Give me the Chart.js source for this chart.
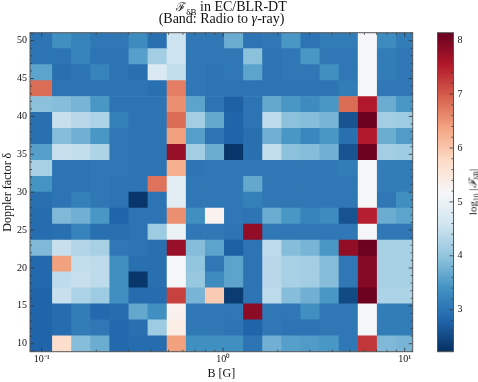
<!DOCTYPE html>
<html>
<head>
<meta charset="utf-8">
<script src="https://cdn.jsdelivr.net/npm/chart.js@4.4.1/dist/chart.umd.min.js"></script>
<style>
  body { margin: 0; background: #fff; }
  #wrap { position: relative; width: 478px; height: 382px; overflow: hidden; }
  canvas { position: absolute; top: 0; }
  .ttl { position: absolute; width: 383px; text-align: center; color: #111;
         font-family: "Liberation Serif", serif; font-size: 14px; line-height: 14px; white-space: nowrap; }
  .ttl sub { font-size: 9px; line-height: 0; }
  .ttl .cal { font-size: 12px; }
  #cbLabel { position: absolute; left: 471.5px; top: 192px; transform: translate(-50%, -50%) rotate(-90deg);
             font-family: "Liberation Serif", serif; font-size: 11px; color: #111; white-space: nowrap; }
  #cbLabel sub { font-size: 7.5px; line-height: 0; }
</style>
</head>
<body>
<div id="wrap">
  <canvas id="heat" width="478" height="382" style="left:0"></canvas>
  <canvas id="cbar" width="44" height="382" style="left:434px"></canvas>
  <div class="ttl" style="top:0px; left:40px"><span class="cal">ℱ</span><sub>δB</sub> in EC/BLR-DT</div>
  <div class="ttl" style="top:11.5px; left:30px">(Band: Radio to <i>γ</i>-ray)</div>
  <div id="cbLabel">log<sub>10</sub> |<i>ℱ</i><sub>δB</sub>|</div>
</div>
<script>
// magnetic field grid [G]
const bField = [0.1, 0.12743, 0.16238, 0.20691, 0.26367, 0.33598, 0.42813, 0.54556, 0.69519, 0.88587,
                1.12884, 1.43845, 1.83298, 2.33572, 2.97635, 3.79269, 4.83293, 6.15848, 7.8476, 10];
// doppler factor grid, top row first
const doppler = [50, 47.895, 45.789, 43.684, 41.579, 39.474, 37.368, 35.263, 33.158, 31.053,
                 28.947, 26.842, 24.737, 22.632, 20.526, 18.421, 16.316, 14.211, 12.105, 10];
// log10 |F_dB|, one row per doppler value (same order), one entry per B value
const logF = [
  [3.0, 3.35, 3.2, 3.05, 3.05, 3.3, 2.95, 4.55, 3.05, 3.05, 3.7, 3.0, 3.05, 3.45, 3.0, 3.1, 3.1, 5.15, 3.3, 3.1],
  [3.0, 3.0, 3.2, 3.0, 3.0, 3.55, 4.15, 4.55, 3.05, 3.05, 3.05, 3.95, 3.0, 3.05, 3.45, 3.05, 3.05, 5.15, 3.1, 3.05],
  [3.6, 2.95, 3.0, 3.2, 3.0, 2.95, 4.75, 4.45, 3.05, 3.0, 3.05, 3.6, 3.0, 3.05, 3.05, 3.35, 3.05, 5.15, 3.1, 3.05],
  [6.85, 3.0, 3.0, 3.0, 3.0, 3.0, 2.95, 6.7, 3.05, 3.0, 3.0, 3.0, 3.0, 3.0, 3.0, 3.0, 3.1, 5.15, 3.05, 3.05],
  [3.95, 3.9, 3.8, 3.45, 3.0, 3.0, 3.0, 6.55, 3.6, 3.0, 2.75, 3.0, 3.65, 3.45, 3.3, 3.45, 6.85, 7.55, 3.7, 3.45],
  [2.95, 4.5, 4.35, 4.25, 3.15, 3.0, 3.0, 6.85, 4.15, 3.65, 2.8, 3.0, 4.4, 3.95, 3.9, 3.8, 2.6, 8.1, 4.15, 4.1],
  [2.95, 3.9, 3.75, 3.45, 3.05, 3.0, 3.0, 6.4, 3.55, 3.0, 2.8, 2.95, 3.75, 3.45, 3.25, 3.45, 2.95, 7.55, 3.7, 3.5],
  [3.55, 4.5, 4.45, 4.25, 3.05, 3.0, 3.0, 7.75, 4.15, 3.7, 2.3, 2.95, 4.45, 3.95, 3.9, 3.75, 2.6, 8.1, 4.15, 4.1],
  [4.2, 3.0, 3.0, 3.05, 3.05, 3.0, 3.0, 6.25, 3.0, 3.05, 3.05, 3.05, 3.05, 3.05, 3.05, 3.05, 3.1, 5.15, 3.1, 3.1],
  [3.4, 3.0, 3.0, 3.05, 3.0, 3.0, 6.8, 4.85, 3.05, 3.05, 3.05, 3.65, 3.05, 3.05, 3.05, 3.05, 3.05, 5.15, 3.1, 3.1],
  [2.95, 3.0, 3.15, 3.05, 3.0, 2.3, 3.0, 4.85, 3.05, 3.05, 3.05, 3.15, 3.05, 3.05, 3.05, 3.05, 3.05, 5.15, 3.05, 3.35],
  [2.9, 3.85, 3.75, 3.45, 2.8, 3.0, 3.0, 6.55, 3.35, 5.3, 3.05, 3.0, 3.7, 3.45, 3.2, 3.3, 2.6, 7.5, 3.7, 3.6],
  [2.9, 2.95, 3.2, 2.95, 2.95, 3.0, 4.1, 5.0, 3.05, 3.05, 3.0, 7.8, 3.05, 3.05, 3.05, 3.05, 3.05, 5.15, 3.05, 3.05],
  [3.85, 4.5, 4.3, 4.2, 3.05, 3.0, 2.95, 7.75, 3.9, 3.6, 2.75, 3.0, 4.4, 3.9, 3.8, 3.45, 7.8, 8.1, 4.2, 4.2],
  [2.85, 6.4, 4.45, 4.4, 3.35, 2.95, 2.95, 5.15, 4.0, 3.05, 3.6, 3.0, 4.35, 4.2, 4.15, 3.9, 3.05, 7.9, 4.2, 4.2],
  [2.85, 4.4, 4.5, 4.4, 3.35, 2.3, 2.95, 5.15, 4.05, 3.3, 3.6, 3.0, 4.35, 4.2, 4.15, 3.9, 3.05, 7.9, 4.2, 4.2],
  [2.8, 4.5, 4.25, 4.1, 3.35, 2.9, 2.9, 7.2, 3.8, 5.95, 2.35, 3.0, 4.4, 3.9, 3.75, 3.45, 2.5, 8.1, 4.25, 4.25],
  [2.8, 2.9, 3.1, 2.85, 2.9, 3.65, 3.35, 5.3, 3.05, 3.05, 3.05, 7.85, 3.05, 3.05, 3.35, 3.05, 3.05, 5.15, 3.1, 3.1],
  [2.8, 2.9, 3.1, 3.05, 2.85, 2.95, 4.1, 5.4, 3.05, 3.05, 3.0, 2.8, 3.05, 3.0, 3.0, 3.05, 3.05, 5.15, 3.1, 3.1],
  [2.8, 5.7, 3.9, 3.7, 2.85, 2.9, 2.9, 6.4, 3.35, 3.35, 3.35, 3.0, 3.75, 3.55, 3.5, 3.45, 3.05, 7.3, 3.85, 3.8]
];
const xTickVals = [0.1, 1, 10];
const xTickText = ['10⁻¹', '10⁰', '10¹'];
const yTickVals = [10, 15, 20, 25, 30, 35, 40, 45, 50];
const cbarTickVals = [3, 4, 5, 6, 7, 8];
const cMin = 2.22, cMax = 8.14;

// RdBu_r
const rdbu = ['#053061', '#2166ac', '#4393c3', '#92c5de', '#d1e5f0', '#f7f7f7',
              '#fddbc7', '#f4a582', '#d6604d', '#b2182b', '#67001f'];
const rgb = rdbu.map(h => [1, 3, 5].map(i => parseInt(h.substr(i, 2), 16)));
function colorFor(v) {
  let t = Math.min(1, Math.max(0, (v - cMin) / (cMax - cMin))) * 10;
  const i = Math.min(9, Math.floor(t)), f = t - i;
  const c = rgb[i].map((a, k) => Math.round(a + (rgb[i + 1][k] - a) * f));
  return `rgb(${c[0]},${c[1]},${c[2]})`;
}

// cell edges = midpoints between grid values (like pcolormesh 'nearest')
function edges(vals) {
  const s = [...vals].sort((a, b) => a - b);
  const e = [s[0] - (s[1] - s[0]) / 2];
  for (let i = 1; i < s.length; i++) e.push((s[i - 1] + s[i]) / 2);
  e.push(s[s.length - 1] + (s[s.length - 1] - s[s.length - 2]) / 2);
  return e;
}
const bEdges = edges(bField);
const dEdges = edges(doppler);

Chart.defaults.font.family = '"Liberation Serif", serif';
Chart.defaults.color = '#111';

const frameTicks = {
  id: 'frameTicks',
  afterDatasetsDraw(chart) {
    const {ctx, chartArea: a, scales: {x, y}} = chart;
    ctx.save();
    ctx.strokeStyle = '#333';
    ctx.lineWidth = 0.8;
    ctx.beginPath();
    const xt = (v, len) => {
      const p = x.getPixelForValue(v);
      ctx.moveTo(p, a.bottom); ctx.lineTo(p, a.bottom - len);
      ctx.moveTo(p, a.top); ctx.lineTo(p, a.top + len);
    };
    const yt = (v, len) => {
      const p = y.getPixelForValue(v);
      ctx.moveTo(a.left, p); ctx.lineTo(a.left + len, p);
      ctx.moveTo(a.right, p); ctx.lineTo(a.right - len, p);
    };
    xTickVals.forEach(v => xt(v, 4));
    [0.09, 0.2, 0.3, 0.4, 0.5, 0.6, 0.7, 0.8, 0.9, 2, 3, 4, 5, 6, 7, 8, 9].forEach(v => xt(v, 2));
    yTickVals.forEach(v => yt(v, 4));
    for (let v = 9; v <= 51; v++) if (v % 5) yt(v, 2);
    ctx.stroke();
    ctx.lineWidth = 1;
    ctx.strokeStyle = '#555';
    ctx.strokeRect(a.left, a.top, a.width, a.height);
    ctx.restore();
  }
};

const datasets = bField.map((b, i) => ({
  label: 'B = ' + b,
  data: doppler.map(d => ({y: d, x: [bEdges[i], bEdges[i + 1]]})),
  backgroundColor: doppler.map((d, j) => colorFor(logF[j][i])),
  borderWidth: 0,
  barPercentage: 1,
  categoryPercentage: 1,
  grouped: false
}));

new Chart(document.getElementById('heat'), {
  type: 'bar',
  data: {datasets},
  options: {
    indexAxis: 'y',
    responsive: false,
    animation: false,
    devicePixelRatio: 1,
    layout: {padding: {left: 0, top: 32.7, right: 65.3, bottom: 0}},
    plugins: {legend: {display: false}, tooltip: {enabled: false}},
    scales: {
      x: {
        type: 'logarithmic',
        min: bEdges[0], max: bEdges[bEdges.length - 1],
        grid: {display: false, drawTicks: false},
        border: {display: false},
        afterBuildTicks: s => { s.ticks = xTickVals.map(v => ({value: v})); },
        afterFit: s => { s.height = 30.3; },
        ticks: {
          autoSkip: false, maxRotation: 0, padding: 2,
          font: {size: 10},
          callback: v => xTickText[xTickVals.indexOf(v)]
        },
        title: {display: true, text: 'B [G]', font: {size: 12}, padding: {top: 0, bottom: 1}}
      },
      y: {
        type: 'linear',
        offset: false,
        min: dEdges[0], max: dEdges[dEdges.length - 1],
        grid: {display: false, offset: false, drawTicks: false},
        border: {display: false},
        afterBuildTicks: s => { s.ticks = yTickVals.map(v => ({value: v})); },
        afterFit: s => { s.width = 30; },
        ticks: {autoSkip: false, padding: 3, font: {size: 10}},
        title: {display: true, text: 'Doppler factor δ', font: {size: 12}, padding: {top: 1, bottom: 0}}
      }
    }
  },
  plugins: [frameTicks]
});

// colorbar
const cbarTicks = {
  id: 'cbarTicks',
  afterDatasetsDraw(chart) {
    const {ctx, chartArea: a, scales: {y}} = chart;
    ctx.save();
    ctx.strokeStyle = '#333';
    ctx.lineWidth = 0.8;
    ctx.beginPath();
    cbarTickVals.forEach(v => { const p = y.getPixelForValue(v); ctx.moveTo(a.right, p); ctx.lineTo(a.right - 4, p); });
    for (let k = 12; k <= 40; k++) {
      if (k % 5 === 0) continue;
      const p = y.getPixelForValue(k / 5);
      if (p < a.top || p > a.bottom) continue;
      ctx.moveTo(a.right, p); ctx.lineTo(a.right - 2, p);
    }
    ctx.stroke();
    ctx.lineWidth = 1;
    ctx.strokeStyle = '#555';
    ctx.strokeRect(a.left, a.top, a.width, a.height);
    ctx.restore();
  }
};

new Chart(document.getElementById('cbar'), {
  type: 'bar',
  data: {
    labels: ['scale'],
    datasets: [{
      data: [[cMin, cMax]],
      backgroundColor: c => {
        const a = c.chart.chartArea;
        if (!a) return rdbu[0];
        const g = c.chart.ctx.createLinearGradient(0, a.bottom, 0, a.top);
        rdbu.forEach((h, k) => g.addColorStop(k / 10, h));
        return g;
      },
      borderWidth: 0,
      barPercentage: 1,
      categoryPercentage: 1
    }]
  },
  options: {
    responsive: false,
    animation: false,
    devicePixelRatio: 1,
    layout: {padding: {left: 3.5, top: 32.7, right: 0, bottom: 30.3}},
    plugins: {legend: {display: false}, tooltip: {enabled: false}},
    scales: {
      x: {display: false},
      y: {
        position: 'right',
        min: cMin, max: cMax,
        grid: {display: false, drawTicks: false},
        border: {display: false},
        afterBuildTicks: s => { s.ticks = cbarTickVals.map(v => ({value: v})); },
        afterFit: s => { s.width = 24.5; },
        ticks: {padding: 4, font: {size: 10}}
      }
    }
  },
  plugins: [cbarTicks]
});
</script>
</body>
</html>
